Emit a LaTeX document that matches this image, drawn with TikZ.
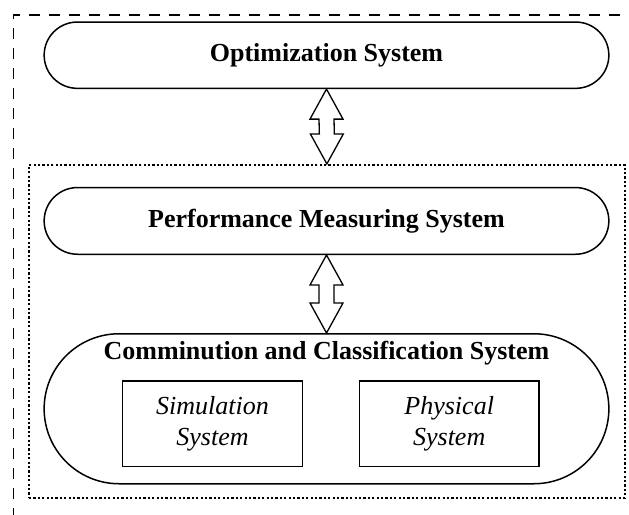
\documentclass[tikz,border=0pt]{standalone}
\usepackage{fontspec}
\setmainfont{Liberation Serif}
\usetikzlibrary{positioning, shapes.misc, calc}

% two-headed hollow arrow from point #1 down to point #2
\newcommand{\twoway}[2]{%
  \draw[line width=1.3pt, line join=miter, fill=white]
    (#1) -- ($(#1)+(16.5,-30)$) -- ($(#1)+(7.5,-30)$) -- ($(#2)+(7.5,30)$)
    -- ($(#2)+(16.5,30)$) -- (#2) -- ($(#2)+(-16.5,30)$) -- ($(#2)+(-7.5,30)$)
    -- ($(#1)+(-7.5,-30)$) -- ($(#1)+(-16.5,-30)$) -- cycle;}

\begin{document}
\begin{tikzpicture}[x=1pt, y=1pt, node distance=0pt,
    pill/.style={draw, line width=1.5pt, rounded rectangle, inner sep=0pt,
                 minimum width=564.7pt, font=\fontsize{26}{31}\selectfont\bfseries},
    unitbox/.style={draw, line width=1.1pt, inner sep=0pt, minimum width=179.6pt,
                    minimum height=85.7pt, align=center,
                    font=\fontsize{26}{31.5}\selectfont\itshape}]
  \useasboundingbox (0,0) rectangle (629,-514);
  \clip (0,0) rectangle (629,-514);

  % outer (dashed) and inner (dotted) frames
  \draw[line width=1.6pt, dash pattern=on 11pt off 9pt]
    (640,-14.7) -- (13.3,-14.7) -- (13.3,-530);
  \node[draw, line width=1.6pt, dash pattern=on 2.2pt off 2.2pt, inner sep=0pt,
        minimum width=595.7pt, minimum height=333.3pt] (frame) at (326.85,-331.35) {};

  \node[pill, minimum height=66.3pt] (opt) at (326.5,-55.2) {Optimization System};
  \node[pill, minimum height=66.7pt, below=97.7pt of opt] (meas) {Performance Measuring System};
  \node[pill, minimum height=150pt, below=78pt of meas] (comm) {};
  \node[font=\fontsize{26}{31}\selectfont\bfseries] (commtitle) at (326.5,-353)
    {Comminution and Classification System};

  \node[unitbox] (sim) at (212.5,-423.8) {Simulation\\System};
  \node[unitbox] (phys) at (449.2,-423.8) {Physical\\System};

  \twoway{opt.south}{frame.north}
  \twoway{meas.south}{comm.north}
\end{tikzpicture}
\end{document}
